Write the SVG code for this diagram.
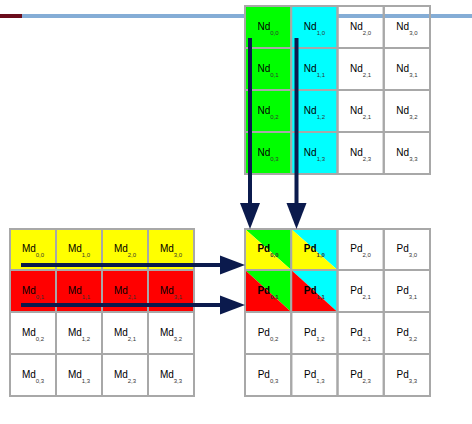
<svg xmlns="http://www.w3.org/2000/svg" width="472" height="424" viewBox="0 0 472 424">
<defs>
<style>
.c{stroke:#a8a8a8;stroke-width:2;fill:none}
.t{font-family:"Liberation Sans",Arial,sans-serif;font-size:10px;fill:#000;text-anchor:middle}
.s{font-size:6px;fill:#333}
.b{font-weight:bold}
.ar{stroke:#0b1a4d;stroke-width:4;fill:none}
.ah{fill:#0b1a4d}
</style>
</defs>
<rect x="0" y="0" width="472" height="424" fill="#fff"/>
<g id="topbar">
<rect x="22" y="14" width="450" height="4" fill="#85add6"/>
<rect x="0" y="14" width="22" height="4" fill="#6b0d1c"/>
</g>
<g id="Nd">
<g id="nd00"><rect x="245" y="6" width="46.25" height="42" fill="#00ff00"/><rect class="c" x="245" y="6" width="46.25" height="42"/><text class="t" x="268" y="30">Nd<tspan class="s" dy="5">0,0</tspan></text></g>
<g id="nd10"><rect x="291.25" y="6" width="46.25" height="42" fill="#00ffff"/><rect class="c" x="291.25" y="6" width="46.25" height="42"/><text class="t" x="314.4" y="30">Nd<tspan class="s" dy="5">1,0</tspan></text></g>
<g id="nd20"><rect class="c" x="337.5" y="6" width="46.25" height="42"/><text class="t" x="360.6" y="30">Nd<tspan class="s" dy="5">2,0</tspan></text></g>
<g id="nd30"><rect class="c" x="383.75" y="6" width="46.25" height="42"/><text class="t" x="406.9" y="30">Nd<tspan class="s" dy="5">3,0</tspan></text></g>
<g id="nd01"><rect x="245" y="48" width="46.25" height="42" fill="#00ff00"/><rect class="c" x="245" y="48" width="46.25" height="42"/><text class="t" x="268" y="72">Nd<tspan class="s" dy="5">0,1</tspan></text></g>
<g id="nd11"><rect x="291.25" y="48" width="46.25" height="42" fill="#00ffff"/><rect class="c" x="291.25" y="48" width="46.25" height="42"/><text class="t" x="314.4" y="72">Nd<tspan class="s" dy="5">1,1</tspan></text></g>
<g id="nd21"><rect class="c" x="337.5" y="48" width="46.25" height="42"/><text class="t" x="360.6" y="72">Nd<tspan class="s" dy="5">2,1</tspan></text></g>
<g id="nd31"><rect class="c" x="383.75" y="48" width="46.25" height="42"/><text class="t" x="406.9" y="72">Nd<tspan class="s" dy="5">3,1</tspan></text></g>
<g id="nd02"><rect x="245" y="90" width="46.25" height="42" fill="#00ff00"/><rect class="c" x="245" y="90" width="46.25" height="42"/><text class="t" x="268" y="114">Nd<tspan class="s" dy="5">0,2</tspan></text></g>
<g id="nd12"><rect x="291.25" y="90" width="46.25" height="42" fill="#00ffff"/><rect class="c" x="291.25" y="90" width="46.25" height="42"/><text class="t" x="314.4" y="114">Nd<tspan class="s" dy="5">1,2</tspan></text></g>
<g id="nd22"><rect class="c" x="337.5" y="90" width="46.25" height="42"/><text class="t" x="360.6" y="114">Nd<tspan class="s" dy="5">2,1</tspan></text></g>
<g id="nd32"><rect class="c" x="383.75" y="90" width="46.25" height="42"/><text class="t" x="406.9" y="114">Nd<tspan class="s" dy="5">3,2</tspan></text></g>
<g id="nd03"><rect x="245" y="132" width="46.25" height="42" fill="#00ff00"/><rect class="c" x="245" y="132" width="46.25" height="42"/><text class="t" x="268" y="156">Nd<tspan class="s" dy="5">0,3</tspan></text></g>
<g id="nd13"><rect x="291.25" y="132" width="46.25" height="42" fill="#00ffff"/><rect class="c" x="291.25" y="132" width="46.25" height="42"/><text class="t" x="314.4" y="156">Nd<tspan class="s" dy="5">1,3</tspan></text></g>
<g id="nd23"><rect class="c" x="337.5" y="132" width="46.25" height="42"/><text class="t" x="360.6" y="156">Nd<tspan class="s" dy="5">2,3</tspan></text></g>
<g id="nd33"><rect class="c" x="383.75" y="132" width="46.25" height="42"/><text class="t" x="406.9" y="156">Nd<tspan class="s" dy="5">3,3</tspan></text></g>
</g>
<g id="Md">
<g id="md00"><rect x="10" y="229" width="46" height="41" fill="#ffff00"/><rect class="c" x="10" y="229" width="46" height="41"/><text class="t" x="33" y="252">Md<tspan class="s" dy="5">0,0</tspan></text></g>
<g id="md10"><rect x="56" y="229" width="46" height="41" fill="#ffff00"/><rect class="c" x="56" y="229" width="46" height="41"/><text class="t" x="79" y="252">Md<tspan class="s" dy="5">1,0</tspan></text></g>
<g id="md20"><rect x="102" y="229" width="46" height="41" fill="#ffff00"/><rect class="c" x="102" y="229" width="46" height="41"/><text class="t" x="125" y="252">Md<tspan class="s" dy="5">2,0</tspan></text></g>
<g id="md30"><rect x="148" y="229" width="46" height="41" fill="#ffff00"/><rect class="c" x="148" y="229" width="46" height="41"/><text class="t" x="171" y="252">Md<tspan class="s" dy="5">3,0</tspan></text></g>
<g id="md01"><rect x="10" y="270" width="46" height="42" fill="#ff0000"/><rect class="c" x="10" y="270" width="46" height="42"/><text class="t" x="33" y="294">Md<tspan class="s" dy="5">0,1</tspan></text></g>
<g id="md11"><rect x="56" y="270" width="46" height="42" fill="#ff0000"/><rect class="c" x="56" y="270" width="46" height="42"/><text class="t" x="79" y="294">Md<tspan class="s" dy="5">1,1</tspan></text></g>
<g id="md21"><rect x="102" y="270" width="46" height="42" fill="#ff0000"/><rect class="c" x="102" y="270" width="46" height="42"/><text class="t" x="125" y="294">Md<tspan class="s" dy="5">2,1</tspan></text></g>
<g id="md31"><rect x="148" y="270" width="46" height="42" fill="#ff0000"/><rect class="c" x="148" y="270" width="46" height="42"/><text class="t" x="171" y="294">Md<tspan class="s" dy="5">3,1</tspan></text></g>
<g id="md02"><rect class="c" x="10" y="312" width="46" height="42"/><text class="t" x="33" y="336">Md<tspan class="s" dy="5">0,2</tspan></text></g>
<g id="md12"><rect class="c" x="56" y="312" width="46" height="42"/><text class="t" x="79" y="336">Md<tspan class="s" dy="5">1,2</tspan></text></g>
<g id="md22"><rect class="c" x="102" y="312" width="46" height="42"/><text class="t" x="125" y="336">Md<tspan class="s" dy="5">2,1</tspan></text></g>
<g id="md32"><rect class="c" x="148" y="312" width="46" height="42"/><text class="t" x="171" y="336">Md<tspan class="s" dy="5">3,2</tspan></text></g>
<g id="md03"><rect class="c" x="10" y="354" width="46" height="42"/><text class="t" x="33" y="378">Md<tspan class="s" dy="5">0,3</tspan></text></g>
<g id="md13"><rect class="c" x="56" y="354" width="46" height="42"/><text class="t" x="79" y="378">Md<tspan class="s" dy="5">1,3</tspan></text></g>
<g id="md23"><rect class="c" x="102" y="354" width="46" height="42"/><text class="t" x="125" y="378">Md<tspan class="s" dy="5">2,3</tspan></text></g>
<g id="md33"><rect class="c" x="148" y="354" width="46" height="42"/><text class="t" x="171" y="378">Md<tspan class="s" dy="5">3,3</tspan></text></g>
</g>
<g id="Pd">
<g id="pd00"><polygon points="245,229 291.25,229 291.25,270" fill="#00ff00"/><polygon points="245,229 291.25,270 245,270" fill="#ffff00"/><rect class="c" x="245" y="229" width="46.25" height="41"/><text class="t b" x="268" y="252">Pd<tspan class="s" dy="5">0,0</tspan></text></g>
<g id="pd10"><polygon points="291.25,229 337.5,229 337.5,270" fill="#00ffff"/><polygon points="291.25,229 337.5,270 291.25,270" fill="#ffff00"/><rect class="c" x="291.25" y="229" width="46.25" height="41"/><text class="t b" x="314.4" y="252">Pd<tspan class="s" dy="5">1,0</tspan></text></g>
<g id="pd20"><rect class="c" x="337.5" y="229" width="46.25" height="41"/><text class="t" x="360.6" y="252">Pd<tspan class="s" dy="5">2,0</tspan></text></g>
<g id="pd30"><rect class="c" x="383.75" y="229" width="46.25" height="41"/><text class="t" x="406.9" y="252">Pd<tspan class="s" dy="5">3,0</tspan></text></g>
<g id="pd01"><polygon points="245,270 291.25,270 291.25,312" fill="#00ff00"/><polygon points="245,270 291.25,312 245,312" fill="#ff0000"/><rect class="c" x="245" y="270" width="46.25" height="42"/><text class="t b" x="268" y="294">Pd<tspan class="s" dy="5">0,1</tspan></text></g>
<g id="pd11"><polygon points="291.25,270 337.5,270 337.5,312" fill="#00ffff"/><polygon points="291.25,270 337.5,312 291.25,312" fill="#ff0000"/><rect class="c" x="291.25" y="270" width="46.25" height="42"/><text class="t b" x="314.4" y="294">Pd<tspan class="s" dy="5">1,1</tspan></text></g>
<g id="pd21"><rect class="c" x="337.5" y="270" width="46.25" height="42"/><text class="t" x="360.6" y="294">Pd<tspan class="s" dy="5">2,1</tspan></text></g>
<g id="pd31"><rect class="c" x="383.75" y="270" width="46.25" height="42"/><text class="t" x="406.9" y="294">Pd<tspan class="s" dy="5">3,1</tspan></text></g>
<g id="pd02"><rect class="c" x="245" y="312" width="46.25" height="42"/><text class="t" x="268" y="336">Pd<tspan class="s" dy="5">0,2</tspan></text></g>
<g id="pd12"><rect class="c" x="291.25" y="312" width="46.25" height="42"/><text class="t" x="314.4" y="336">Pd<tspan class="s" dy="5">1,2</tspan></text></g>
<g id="pd22"><rect class="c" x="337.5" y="312" width="46.25" height="42"/><text class="t" x="360.6" y="336">Pd<tspan class="s" dy="5">2,1</tspan></text></g>
<g id="pd32"><rect class="c" x="383.75" y="312" width="46.25" height="42"/><text class="t" x="406.9" y="336">Pd<tspan class="s" dy="5">3,2</tspan></text></g>
<g id="pd03"><rect class="c" x="245" y="354" width="46.25" height="42"/><text class="t" x="268" y="378">Pd<tspan class="s" dy="5">0,3</tspan></text></g>
<g id="pd13"><rect class="c" x="291.25" y="354" width="46.25" height="42"/><text class="t" x="314.4" y="378">Pd<tspan class="s" dy="5">1,3</tspan></text></g>
<g id="pd23"><rect class="c" x="337.5" y="354" width="46.25" height="42"/><text class="t" x="360.6" y="378">Pd<tspan class="s" dy="5">2,3</tspan></text></g>
<g id="pd33"><rect class="c" x="383.75" y="354" width="46.25" height="42"/><text class="t" x="406.9" y="378">Pd<tspan class="s" dy="5">3,3</tspan></text></g>
</g>
<g id="connectors">
<line class="ar" x1="250" y1="38" x2="250" y2="206"/>
<polygon class="ah" points="240,203 260,203 250,229"/>
<line class="ar" x1="296.5" y1="38" x2="296.5" y2="206"/>
<polygon class="ah" points="286.5,203 306.5,203 296.5,229"/>
<line class="ar" x1="21" y1="265" x2="223" y2="265"/>
<polygon class="ah" points="220,255.5 220,274.5 245,265"/>
<line class="ar" x1="21" y1="305" x2="223" y2="305"/>
<polygon class="ah" points="220,295.5 220,314.5 245,305"/>
</g>
</svg>
